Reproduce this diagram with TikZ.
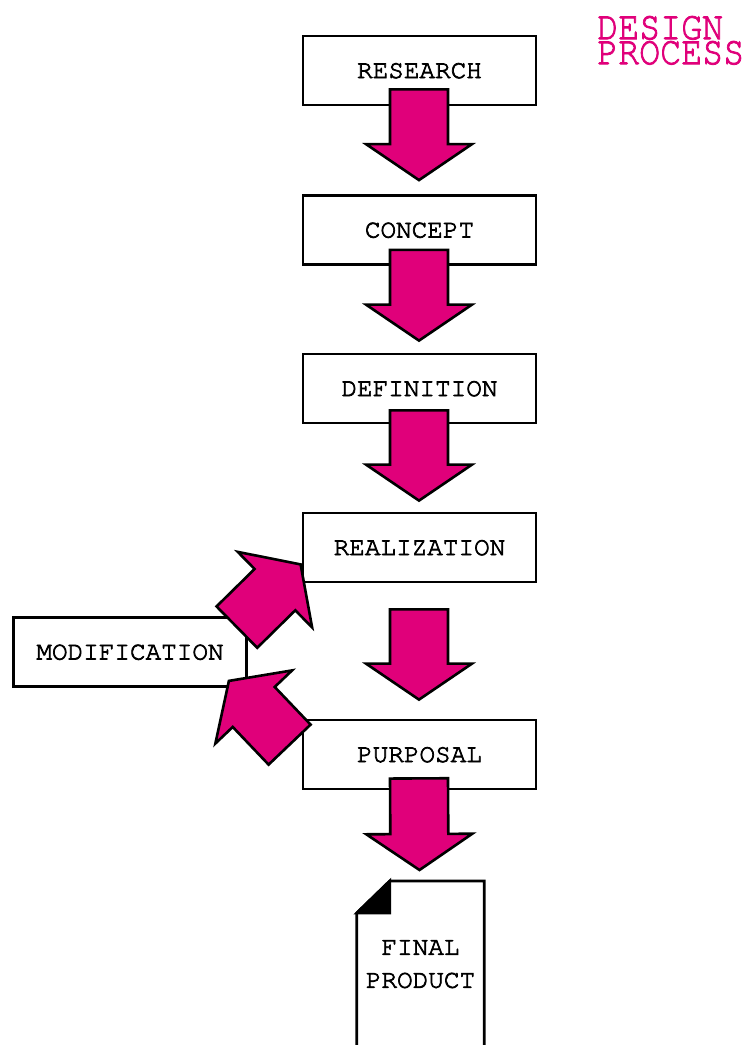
\documentclass[tikz,border=0pt]{standalone}
\usepackage[T1,TU]{fontenc}
\usetikzlibrary{calc}
\definecolor{mag}{RGB}{224,0,122}
\newcommand\courfont{\fontencoding{T1}\fontfamily{pcr}\selectfont}
\newcommand\semibold[1]{\special{pdf:literal direct 2 Tr 0.7 w}#1\special{pdf:literal direct 0 Tr}}
\tikzset{
  stage/.style={draw=black, line width=2.8pt, fill=white, minimum width=233pt,
    minimum height=69pt, inner sep=0pt, font=\courfont\fontsize{26}{30}\selectfont},
  barrow/.style={fill=mag, draw=black, line width=2.6pt, line join=miter},
  titletext/.style={text=mag, font=\courfont\fontsize{35}{25}\selectfont,
    inner sep=0pt, anchor=north west, align=left},
  docline/.style={draw=black, line width=2.8pt, line join=miter},
}
\newcommand\blockarrow[2]{%
  \coordinate (bh) at ($(#2)!36pt!(#1)$);
  \filldraw[barrow] ($(#1)!29pt!90:(#2)$) -- ($(bh)!29pt!90:(#2)$) --
    ($(bh)!53pt!90:(#2)$) -- (#2) -- ($(bh)!53pt!-90:(#2)$) --
    ($(bh)!29pt!-90:(#2)$) -- ($(#1)!29pt!-90:(#2)$) -- cycle;}
\begin{document}
\begin{tikzpicture}[x=1pt,y=-1pt]
\clip (0,0) rectangle (750,1045);
\fill[white] (0,0) rectangle (750,1045);

% title
\node[titletext] (title) at (597,15)
  {\scalebox{1}[1.15]{\semibold{DESIGN}}\\\scalebox{1}[1.15]{\semibold{PROCESS}}};

% stages
\node[stage] (research) at (419.5,70.5) {\semibold{RESEARCH}};
\node[stage] (concept) at (419.5,230) {\semibold{CONCEPT}};
\node[stage] (definition) at (419.5,388.5) {\semibold{DEFINITION}};
\node[stage] (realization) at (419.5,547.5) {\semibold{REALIZATION}};
\node[stage] (purposal) at (419.5,754.5) {\semibold{PURPOSAL}};
\node[stage] (modification) at (130,652) {\semibold{MODIFICATION}};

% final product document
\node[font=\courfont\fontsize{26}{33}\selectfont, align=center, minimum width=127pt,
  minimum height=166pt, anchor=north, inner sep=0pt] (final) at (420.5,881)
  {\semibold{FINAL}\\\semibold{PRODUCT}};
\draw[docline] (final.south west) -- ($(final.north west)+(0,32)$) --
  ($(final.north west)+(33,0)$) -- (final.north east) -- (final.south east);
\filldraw[docline, fill=black] ($(final.north west)+(0,32)$) --
  ($(final.north west)+(33,0)$) -- ($(final.north west)+(33,32)$) -- cycle;

% arrow ends
\coordinate (t1) at ($(research.south)+(-0.5,-17)$);
\coordinate (h1) at ($(concept.north)+(-0.5,-14)$);
\coordinate (t2) at ($(concept.south)+(-0.5,-16)$);
\coordinate (h2) at ($(definition.north)+(-0.5,-12)$);
\coordinate (t3) at ($(definition.south)+(-0.5,-14)$);
\coordinate (h3) at ($(realization.north)+(-0.5,-11)$);
\coordinate (t4) at ($(realization.south)+(-0.5,26)$);
\coordinate (h4) at ($(purposal.north)+(-0.5,-19)$);
\coordinate (t5) at ($(purposal.south)+(-0.5,-12)$);
\coordinate (h5) at ($(final.north)+(-1,-11)$);
\coordinate (tm) at ($(modification.north east)+(-11,11)$);
\coordinate (hm) at ($(realization.south west)+(-1,-19)$);
\coordinate (tp) at ($(purposal.north west)+(-12,26)$);
\coordinate (hp) at ($(modification.south east)+(-19,-7)$);

\blockarrow{t1}{h1}
\blockarrow{t2}{h2}
\blockarrow{t3}{h3}
\blockarrow{t4}{h4}
\blockarrow{t5}{h5}
\blockarrow{tm}{hm}
\blockarrow{tp}{hp}
\end{tikzpicture}
\end{document}
